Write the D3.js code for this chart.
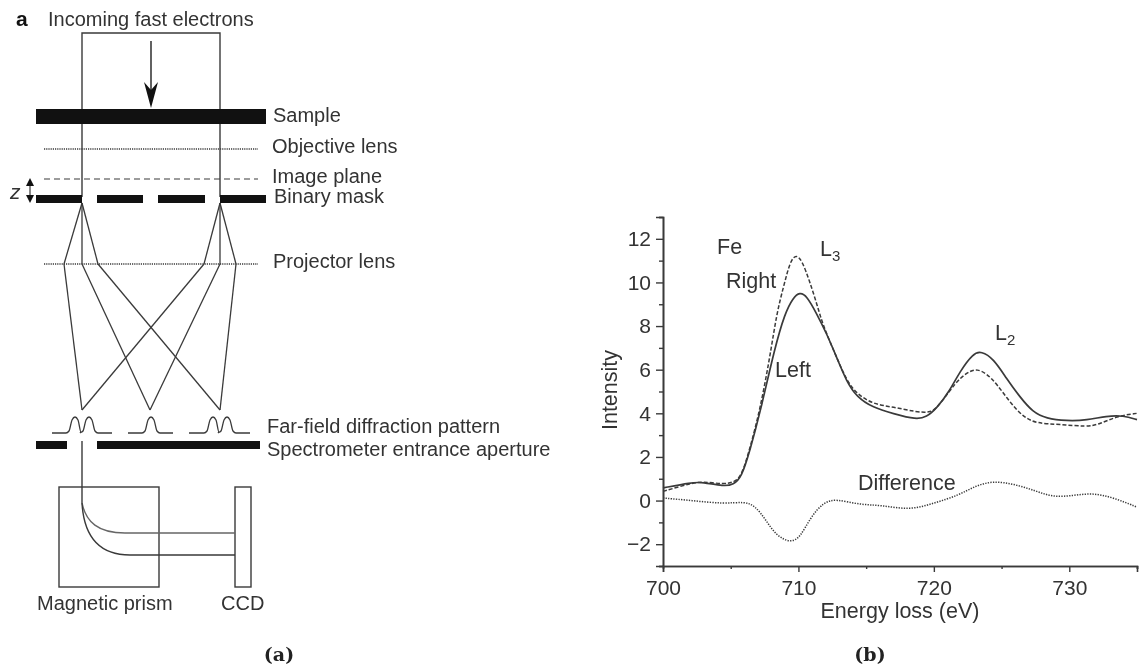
<!DOCTYPE html>
<html>
<head>
<meta charset="utf-8">
<script src="https://cdn.jsdelivr.net/npm/d3@7"></script>
<style>
    body { margin: 0; background: #fff; }
    svg { display: block; font-family: "Liberation Sans", sans-serif; fill: #333; filter: blur(0.35px); }
    text { stroke: none; }
</style>
</head>
<body>
<div id="graph"></div>
<script>
/* Values */
const leftE = [700, 702.1, 702.9, 704.5, 705.2, 705.8, 706.42, 707.16, 708.27, 709, 709.6, 710.1, 710.6, 711.34, 712.08, 712.8, 713.56, 714.3, 715.5, 717, 718.7, 719.46, 720.2, 721.2, 721.9, 722.9, 723.5, 724.4, 725.36, 726.35, 727.3, 728.3, 729.8, 731.3, 732.75, 734, 735]
const leftI = [0.58, 0.83, 0.85, 0.65, 0.73, 1.06, 2.3, 4.0, 7.05, 8.58, 9.3, 9.55, 9.4, 8.58, 7.66, 6.6, 5.45, 4.76, 4.26, 3.99, 3.71, 3.83, 4.22, 5.06, 5.9, 6.75, 6.85, 6.51, 5.6, 4.75, 4.06, 3.76, 3.65, 3.68, 3.88, 3.9, 3.71]

const rightE = [700, 702.1, 702.9, 704.5, 705.2, 705.8, 706.42, 707.16, 707.9, 708.4, 708.9, 709.4, 709.85, 710.3, 710.8, 711.35, 711.8, 712.8, 713.56, 714.3, 715.5, 717, 718.7, 719.7, 720.2, 721.2, 721.9, 722.66, 723.2, 723.9, 724.63, 725.6, 726.6, 727.6, 729.3, 731.27, 732.25, 733.5, 735]
const rightI = [0.42, 0.8, 0.87, 0.75, 0.83, 1.1, 2.4, 4.15, 6.6, 8.6, 9.8, 11.0, 11.3, 10.95, 10.1, 9.04, 8.04, 6.6, 5.5, 4.9, 4.42, 4.29, 4.06, 4.03, 4.22, 5.06, 5.6, 5.94, 6.03, 5.82, 5.36, 4.52, 3.83, 3.53, 3.5, 3.38, 3.5, 3.87, 4.0]

const diffE = [700, 702.1, 704.5, 706, 706.8, 707.6, 708.35, 709.43, 710.15, 710.9, 711.85, 712.74, 714.55, 716.1, 718.2, 720, 721.8, 723.07, 724.37, 725.9, 727.5, 728.8, 730.3, 731.7, 733.2, 735]
const diffI = [0.12, 0, -0.15, -0.05, -0.23, -0.9, -1.6, -1.95, -1.67, -0.76, -0.08, 0.08, -0.2, -0.2, -0.45, -0.12, 0.23, 0.68, 0.9, 0.76, 0.45, 0.15, 0.23, 0.35, 0.15, -0.3]

const xMajor = [700, 710, 720, 730]
const xMinor = [705, 715, 725, 735]
const yMajor = [-2, 0, 2, 4, 6, 8, 10, 12]
const yMinor = [-3, -1, 1, 3, 5, 7, 9, 11, 13]

const W = 1140
const H = 668
const ink = "#3a3a3a"

const svg = d3.select("#graph").append("svg").attr("width", W).attr("height", H)

drawSpectrum()
drawSchematic()

function drawSpectrum() {
    const xScale = d3.scaleLinear().domain([700, 735]).range([663, 1137])
    const yScale = d3.scaleLinear().domain([-3, 13]).range([566, 217])

    /* X Axis */
    const xAxis = d3.axisBottom(xScale).tickValues(xMajor).tickFormat(d3.format("d")).tickSize(6).tickPadding(8)
    const xAxisMinor = d3.axisBottom(xScale).tickValues(xMinor).tickFormat("").tickSize(3)
    svg.append("g").attr("transform", "translate(0,566)").call(xAxisMinor).call(styleAxis)
    svg.append("g").attr("transform", "translate(0,566)").call(xAxis).call(styleAxis)

    /* Y Axis */
    const yAxis = d3.axisLeft(yScale).tickValues(yMajor).tickFormat(d => d < 0 ? "\u2212" + (-d) : d).tickSize(7).tickPadding(5)
    const yAxisMinor = d3.axisLeft(yScale).tickValues(yMinor).tickFormat("").tickSize(4)
    svg.append("g").attr("transform", "translate(663,0)").call(yAxisMinor).call(styleAxis)
    svg.append("g").attr("transform", "translate(663,0)").call(yAxis).call(styleAxis)

    /* Curves */
    const line = d3.line().x(d => xScale(d[0])).y(d => yScale(d[1])).curve(d3.curveBasis)
    const curve = (es, is, width, dash) => svg.append("path")
        .attr("d", line(es.map((e, i) => [e, is[i]])))
        .attr("fill", "none")
        .attr("stroke", ink)
        .attr("stroke-width", width)
        .attr("stroke-dasharray", dash)

    curve(leftE, leftI, 1.7, null)
    curve(rightE, rightI, 1.5, "4 2")
    curve(diffE, diffI, 1.5, "1.3 1.3")

    /* Labels */
    label("Intensity", 0, 0, 21.5).attr("transform", "translate(617,390) rotate(-90)").attr("text-anchor", "middle")
    label("Energy loss (eV)", 900, 618, 21.5).attr("text-anchor", "middle")
    label("Fe", 717, 254, 21.5)
    label("Right", 726, 288, 21.5)
    label("Left", 775, 377, 21.5)
    label("Difference", 858, 490, 21.5)
    subLabel("L", "3", 820, 256)
    subLabel("L", "2", 995, 340)

    svg.append("text").text("(b)").attr("x", 870).attr("y", 661)
        .attr("text-anchor", "middle")
        .style("font-family", "'DejaVu Serif', serif").style("font-weight", "bold").style("font-size", "19px").style("fill", "#222")
}

function styleAxis(g) {
    g.selectAll("path").attr("stroke", ink).attr("stroke-width", 1.6)
    g.selectAll("line").attr("stroke", ink).attr("stroke-width", 1.4)
    g.selectAll("text").style("font-size", "21px").style("font-family", "'Liberation Sans', sans-serif").attr("fill", "#333")
}

function label(text, x, y, size) {
    return svg.append("text").text(text).attr("x", x).attr("y", y).style("font-size", size + "px")
}

function subLabel(main, sub, x, y) {
    const t = label(main, x, y, 21.5)
    t.append("tspan").text(sub).attr("dy", 5).style("font-size", "15px")
    return t
}

function drawSchematic() {
    const g = svg.append("g")
    const seg = (x1, y1, x2, y2, w = 1.4, dash = null) => g.append("line")
        .attr("x1", x1).attr("y1", y1).attr("x2", x2).attr("y2", y2)
        .attr("stroke", ink).attr("stroke-width", w).attr("stroke-dasharray", dash)
    const bar = (x1, x2, y1, y2) => g.append("rect")
        .attr("x", x1).attr("y", y1).attr("width", x2 - x1).attr("height", y2 - y1).attr("fill", "#111")
    const box = (x1, x2, y1, y2) => g.append("rect")
        .attr("x", x1).attr("y", y1).attr("width", x2 - x1).attr("height", y2 - y1)
        .attr("fill", "none").attr("stroke", ink).attr("stroke-width", 1.4)

    /* Incoming beam and sample */
    g.append("path").attr("d", "M82,197V33H220V197").attr("fill", "none").attr("stroke", ink).attr("stroke-width", 1.4)
    seg(151, 41, 151, 90, 1.6)
    g.append("path").attr("d", "M144,82L151,90L158,82L151,108Z").attr("fill", "#111")
    bar(36, 266, 109, 124)

    /* Lens planes */
    seg(44, 149, 258, 149, 1.4, "1.2 1")
    seg(44, 179, 258, 179, 1.2, "6 4")
    seg(44, 264, 258, 264, 1.4, "1.2 1")

    /* Binary mask */
    const mask = [[36, 82], [97, 143], [158, 205], [220, 266]]
    mask.forEach(m => bar(m[0], m[1], 195, 203))

    /* z marker */
    seg(30, 182, 30, 199, 1.2)
    g.append("path").attr("d", "M26,186L30,178L34,186Z M26,195L30,203L34,195Z").attr("fill", "#111")
    label("z", 10, 199, 21).style("font-style", "italic")

    /* Rays from the mask edges through the projector lens to the far field */
    const rays = [
        [82, 64, 82], [82, 82, 150], [82, 98, 220],
        [220, 204, 82], [220, 220, 150], [220, 236, 220],
    ]
    rays.forEach(r => {
        seg(r[0], 203, r[1], 264, 1.3)
        seg(r[1], 264, r[2], 410, 1.3)
    })

    /* Far-field pattern */
    const peakPath = (x0, x1, peaks) => {
        const pts = [[x0, 433]]
        peaks.forEach((p, i) => {
            const gap = peaks.length > 1 && i === 0
            pts.push([p - 9, 433], [p - 6, 431], [p - 3, 420], [p, 417], [p + 3, 420], [p + 6, gap ? 432 : 431])
            if (!gap && i === peaks.length - 1) pts.push([p + 9, 433])
        })
        pts.push([x1, 433])
        return d3.line().curve(d3.curveMonotoneX)(pts)
    }
    const patterns = [[52, 112, [75, 89]], [128, 173, [151]], [189, 250, [213, 227]]]
    patterns.forEach(p => g.append("path").attr("d", peakPath(p[0], p[1], p[2])).attr("fill", "none").attr("stroke", ink).attr("stroke-width", 1.3))

    /* Spectrometer aperture and prism */
    bar(36, 67, 441, 449)
    bar(97, 260, 441, 449)
    seg(82, 441, 82, 503, 1.4)
    box(59, 159, 487, 587)
    box(235, 251, 487, 587)
    g.append("path").attr("d", "M82,503C86,522 98,533 125,533H235").attr("fill", "none").attr("stroke", "#666").attr("stroke-width", 1.4)
    g.append("path").attr("d", "M82,503C84,538 100,555 130,555H235").attr("fill", "none").attr("stroke", ink).attr("stroke-width", 1.4)

    /* Text */
    label("a", 16, 26, 21).style("font-weight", "bold").style("fill", "#111")
    label("Incoming fast electrons", 48, 26, 20)
    label("Sample", 273, 122, 20)
    label("Objective lens", 272, 153, 20)
    label("Image plane", 272, 183, 20)
    label("Binary mask", 274, 203, 20)
    label("Projector lens", 273, 268, 20)
    label("Far-field diffraction pattern", 267, 433, 20)
    label("Spectrometer entrance aperture", 267, 456, 20)
    label("Magnetic prism", 37, 610, 20)
    label("CCD", 221, 610, 20)

    svg.append("text").text("(a)").attr("x", 279).attr("y", 661)
        .attr("text-anchor", "middle")
        .style("font-family", "'DejaVu Serif', serif").style("font-weight", "bold").style("font-size", "19px").style("fill", "#222")
}
</script>
</body>
</html>
